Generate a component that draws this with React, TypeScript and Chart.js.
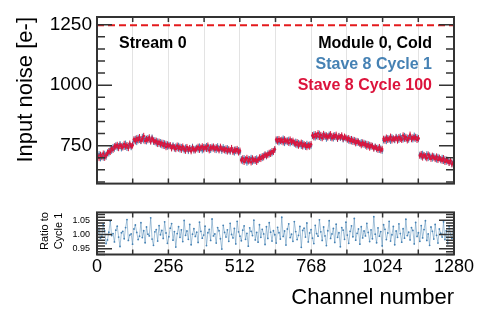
import React, { useEffect, useRef } from "react";
import { Chart, registerables } from "chart.js";

Chart.register(...registerables);

const FONT = "'Liberation Sans', Arial, Helvetica, sans-serif";
const BLUE = "#4682b4";
const RED = "#dc143c";
const FRAME = "#333333";
const GRID = "#e3e3e3";

// ---- data ----
const channelStep = 5; // one plotted point per 5 channels
const cycle1Noise = [
  702, 714, 698, 709, 701, 716, 704,
  722, 718, 735, 729, 744, 738,
  751, 742, 748, 756, 739, 750, 745, 758, 741, 749, 753, 744, 755,
  771, 778, 765, 782, 774, 769, 786, 772, 779, 768, 781, 775, 770, 783, 766,
  772, 760, 767, 758, 764, 752, 761, 749, 757, 746, 753,
  748, 742, 751, 738, 746, 740, 749, 735, 744, 739, 731, 742, 736, 728, 740, 733, 745, 730, 737,
  741, 734, 746, 738, 731, 744, 739, 748, 736, 742, 733, 745, 738, 741, 732, 747, 735, 740, 729, 743,
  736, 728, 739, 731, 725, 737, 730, 722, 734, 727, 731, 724,
  694, 686, 698, 689, 680, 695, 688, 699, 684, 692, 687, 697, 690,
  696, 703, 699, 708, 712, 706, 717, 714, 722, 719, 728, 733,
  770, 776, 764, 772, 767, 779, 761, 771, 765, 774, 760, 768, 763,
  758, 766, 752, 761, 755, 749, 760, 751, 745, 757, 748, 754, 750,
  790, 796, 784, 792, 787, 799, 782, 791, 786, 794, 779, 789, 795, 783, 788, 780, 793, 785, 778, 790, 782, 787, 776, 784, 780,
  779, 771, 776, 768, 774, 765, 770, 762, 767, 758, 764, 756, 761, 750, 757, 748, 753, 745, 749, 740, 746, 736, 741, 733, 738, 729,
  772, 778, 769, 781, 775, 770, 784, 777, 773, 786, 779, 774, 788, 781, 776, 790, 778, 783, 775, 787, 780, 776, 791, 779, 784, 777,
  712, 705, 716, 708, 702, 714, 699, 709, 704, 697, 706, 700, 693, 703, 697, 690, 699, 687, 694, 684, 691, 680, 686, 676, 682,
];
const cycle100Noise = [
  708, 699, 712, 703, 717, 700, 710,
  719, 727, 724, 739, 733, 747,
  746, 753, 740, 751, 747, 743, 757, 746, 752, 740, 758, 748, 751,
  776, 768, 780, 772, 785, 770, 777, 790, 769, 778, 773, 784, 767, 779, 771,
  765, 770, 757, 766, 755, 762, 750, 759, 744, 755, 748,
  752, 739, 747, 743, 736, 750, 738, 745, 733, 746, 737, 729, 744, 734, 739, 727, 741, 735, 731,
  738, 745, 733, 742, 747, 735, 744, 737, 750, 731, 743, 739, 746, 734, 743, 738, 731, 745, 737, 734,
  731, 738, 726, 735, 729, 740, 724, 733, 728, 736, 722, 729,
  689, 697, 683, 693, 699, 685, 694, 681, 697, 688, 694, 683, 692,
  701, 695, 706, 702, 713, 709, 711, 720, 716, 727, 724, 735,
  775, 767, 777, 769, 774, 764, 776, 768, 771, 762, 775, 765, 770,
  762, 755, 764, 750, 758, 762, 747, 756, 752, 744, 753, 746, 756,
  793, 785, 797, 789, 801, 786, 794, 781, 798, 788, 792, 784, 790, 797, 781, 791, 786, 795, 780, 788, 785, 792, 779, 787, 783,
  775, 781, 769, 777, 766, 773, 760, 769, 763, 760, 752, 763, 754, 758, 746, 755, 742, 751, 747, 738, 744, 740, 733, 744, 731, 736,
  778, 771, 783, 774, 779, 787, 772, 780, 776, 783, 771, 785, 778, 774, 792, 779, 786, 772, 781, 795, 777, 784, 780, 786, 774, 781,
  708, 715, 701, 711, 706, 698, 713, 703, 696, 708, 701, 695, 705, 691, 700, 694, 688, 698, 683, 692, 686, 679, 689, 673, 680,
];
const ratioToCycle1 = [
  1.004, 1.021, 0.987, 0.993, 1.036, 1.012, 0.968, 0.981, 1.008, 1.047, 0.996, 1.003, 0.974, 1.015, 1.029, 0.991,
  0.958, 1.006, 1.011, 0.985, 1.024, 1.052, 0.979, 0.998, 1.002, 0.966, 1.019, 1.033, 1.007, 0.982, 0.994, 1.041,
  0.989, 1.013, 0.971, 1.026, 1.001, 0.995, 1.058, 0.984, 0.962, 1.009, 1.017, 0.977, 1.031, 0.999, 1.014, 0.986,
  1.044, 1.005, 0.969, 0.992, 1.022, 1.038, 0.980, 1.010, 0.956, 1.003, 1.027, 0.990, 1.016, 0.975, 1.049, 0.997,
  1.012, 0.983, 1.035, 0.964, 1.001, 1.020, 0.993, 1.008, 0.972, 1.043, 1.011, 0.987, 0.998, 1.029, 0.961, 1.006,
  1.018, 0.979, 1.054, 0.995, 1.002, 0.970, 1.024, 1.013, 0.985, 0.949, 1.032, 1.007, 0.991, 1.016, 0.976, 1.039,
  1.000, 0.988, 1.021, 0.967, 1.046, 1.009, 0.994, 0.978, 1.015, 1.030, 0.983, 1.004, 0.959, 1.023, 1.011, 0.996,
  1.050, 0.981, 1.007, 0.973, 1.034, 0.990, 1.018, 1.002, 0.965, 1.027, 0.986, 1.041, 1.008, 0.977, 1.013, 0.999,
  0.970, 1.025, 1.006, 0.984, 1.060, 0.993, 1.012, 0.963, 1.019, 1.037, 0.989, 1.001, 0.976, 1.045, 1.010, 0.982,
  0.997, 1.028, 0.955, 1.014, 1.022, 0.991, 1.040, 0.974, 1.005, 1.017, 0.987, 0.968, 1.032, 1.003, 0.994, 1.051,
  1.009, 0.979, 1.026, 0.995, 0.961, 1.013, 1.048, 0.986, 1.002, 1.021, 0.972, 1.036, 0.990, 1.006, 0.957, 1.024,
  1.015, 0.983, 1.043, 0.998, 0.969, 1.011, 1.030, 0.992, 1.056, 0.980, 1.004, 1.019, 0.966, 1.027, 0.988, 1.012,
  0.995, 1.039, 1.007, 0.975, 1.016, 0.985, 1.062, 1.001, 0.971, 1.023, 0.994, 1.010, 0.960, 1.034, 1.018, 0.982,
  1.005, 1.046, 0.977, 0.999, 1.028, 0.964, 1.012, 0.990, 1.037, 1.003, 0.973, 1.020, 0.987, 1.053, 0.996, 1.008,
  0.981, 1.024, 1.014, 0.967, 1.042, 0.993, 1.006, 0.976, 1.031, 0.988, 1.017, 1.048, 0.979, 1.002, 0.962, 1.026,
  1.011, 0.984, 1.035, 0.997, 0.970, 1.019, 1.004, 0.991, 1.044, 0.982, 1.013, 0.968, 1.029, 1.000, 0.986, 1.021,
];
const noiseError = 13;
const thresholdNoise = 1248;
const seriesLabels = ["Stave 8 Cycle 1", "Stave 8 Cycle 100"];
const panelLabels = ["Stream 0", "Module 0, Cold"];

const xGridTicks = [0, 128, 256, 384, 512, 640, 768, 896, 1024, 1152, 1280];
const xTickLabels = [0, 256, 512, 768, 1024, 1280];
const noiseMajorTicks = [750, 1000, 1250];
const noiseMinorTicks = [600, 650, 700, 800, 850, 900, 950, 1050, 1100, 1150, 1200];
const ratioMajorTicks = [0.95, 1.0, 1.05];
const ratioMinorTicks = [0.93, 0.94, 0.96, 0.97, 0.98, 0.99, 1.01, 1.02, 1.03, 1.04, 1.06, 1.07];

const channels = cycle1Noise.map((_, i) => i * channelStep + channelStep / 2);

// ---- plugins ----
const errorBarPlugin = {
  id: "errorBars",
  beforeDatasetDraw(chart: any, args: any) {
    const ds = chart.data.datasets[args.index];
    if (!ds.err) return;
    const { ctx, chartArea: a } = chart;
    const y = chart.scales.y;
    ctx.save();
    ctx.beginPath();
    ctx.rect(a.left, a.top, a.right - a.left, a.bottom - a.top);
    ctx.clip();
    ctx.strokeStyle = ds.borderColor;
    ctx.lineWidth = 1;
    ctx.beginPath();
    args.meta.data.forEach((pt: any, i: number) => {
      const v = ds.data[i].y;
      ctx.moveTo(pt.x, y.getPixelForValue(v - ds.err));
      ctx.lineTo(pt.x, y.getPixelForValue(v + ds.err));
    });
    ctx.stroke();
    ctx.restore();
  },
};

const framePlugin = {
  id: "frame",
  afterDatasetsDraw(chart: any, _args: any, opts: any) {
    const { ctx, chartArea: a, scales } = chart;
    ctx.save();
    ctx.strokeStyle = FRAME;
    ctx.lineWidth = 1.5;
    ctx.beginPath();
    const yTick = (v: number, len: number) => {
      const p = scales.y.getPixelForValue(v);
      ctx.moveTo(a.left, p);
      ctx.lineTo(a.left + len, p);
      ctx.moveTo(a.right, p);
      ctx.lineTo(a.right - len, p);
    };
    opts.yMajor.forEach((v: number) => yTick(v, 15));
    opts.yMinor.forEach((v: number) => yTick(v, 8));
    opts.xTicks.forEach((v: number) => {
      const p = scales.x.getPixelForValue(v);
      ctx.moveTo(p, a.top);
      ctx.lineTo(p, a.top + 5);
      ctx.moveTo(p, a.bottom);
      ctx.lineTo(p, a.bottom - 5);
    });
    ctx.stroke();
    ctx.lineWidth = 2;
    ctx.strokeRect(a.left, a.top, a.right - a.left, a.bottom - a.top);
    ctx.restore();
  },
};

const labelsPlugin = {
  id: "panelText",
  afterDraw(chart: any) {
    const { ctx } = chart;
    ctx.save();
    ctx.font = `bold 16px ${FONT}`;
    ctx.textBaseline = "alphabetic";
    ctx.fillStyle = "#000";
    ctx.textAlign = "left";
    ctx.fillText(panelLabels[0], 119, 47.5);
    ctx.textAlign = "right";
    ctx.fillText(panelLabels[1], 432, 47.5);
    ctx.fillStyle = BLUE;
    ctx.fillText(seriesLabels[0], 432, 68.5);
    ctx.fillStyle = RED;
    ctx.fillText(seriesLabels[1], 432, 89.5);
    ctx.restore();
  },
};

const ratioTitlePlugin = {
  id: "ratioTitle",
  afterDraw(chart: any) {
    const { ctx } = chart;
    ctx.save();
    ctx.font = `11px ${FONT}`;
    ctx.fillStyle = "#000";
    ctx.textAlign = "center";
    ctx.textBaseline = "alphabetic";
    ctx.translate(48, 31);
    ctx.rotate(-Math.PI / 2);
    ctx.fillText("Ratio to", 0, 0);
    ctx.fillText("Cycle 1", 0, 13.5);
    ctx.restore();
  },
};

const fixedTicks = (values: number[]) => (axis: any) => {
  axis.ticks = values.map((v) => ({ value: v }));
};

export default function App() {
  const topRef = useRef<HTMLCanvasElement>(null);
  const botRef = useRef<HTMLCanvasElement>(null);

  useEffect(() => {
    const top = new Chart(topRef.current as HTMLCanvasElement, {
      type: "line",
      data: {
        datasets: [
          {
            label: seriesLabels[0],
            data: channels.map((c, i) => ({ x: c, y: cycle1Noise[i] })),
            borderColor: BLUE,
            backgroundColor: BLUE,
            showLine: false,
            pointRadius: 1.3,
            pointBorderWidth: 0,
            order: 2,
            err: noiseError,
          } as any,
          {
            label: seriesLabels[1],
            data: channels.map((c, i) => ({ x: c, y: cycle100Noise[i] })),
            borderColor: RED,
            backgroundColor: RED,
            showLine: false,
            pointRadius: 1.3,
            pointBorderWidth: 0,
            order: 1,
            err: noiseError,
          } as any,
          {
            label: "threshold",
            data: [
              { x: 0, y: thresholdNoise },
              { x: 1280, y: thresholdNoise },
            ],
            borderColor: "#e41a1c",
            borderWidth: 2,
            borderDash: [7, 4],
            pointRadius: 0,
            order: 0,
          },
        ],
      },
      options: {
        animation: false,
        responsive: false,
        maintainAspectRatio: false,
        layout: { padding: { left: 0, right: 39, top: 17, bottom: 6.5 } },
        plugins: {
          legend: { display: false },
          tooltip: { enabled: false },
          frame: { yMajor: noiseMajorTicks, yMinor: noiseMinorTicks, xTicks: xGridTicks },
        } as any,
        scales: {
          x: {
            type: "linear",
            min: 0,
            max: 1280,
            afterBuildTicks: fixedTicks(xGridTicks),
            ticks: { display: false },
            grid: { color: GRID, lineWidth: 1, drawTicks: false },
            border: { display: false },
            afterFit: (s: any) => {
              s.height = 0;
            },
          },
          y: {
            type: "linear",
            min: 593,
            max: 1282,
            afterBuildTicks: fixedTicks(noiseMajorTicks),
            ticks: {
              font: { family: FONT, size: 19 },
              color: "#000",
              padding: 5,
              callback: (v: any) => String(v),
            },
            grid: { display: false, drawTicks: false },
            border: { display: false },
            title: {
              display: true,
              text: "Input noise [e-]",
              align: "end",
              color: "#000",
              font: { family: FONT, size: 22 },
              padding: { top: 13, bottom: 0 },
            },
            afterFit: (s: any) => {
              s.width = 97;
            },
          },
        },
      },
      plugins: [errorBarPlugin, framePlugin, labelsPlugin],
    });

    const bot = new Chart(botRef.current as HTMLCanvasElement, {
      type: "line",
      data: {
        datasets: [
          {
            label: "Ratio to Cycle 1",
            data: channels.map((c, i) => ({ x: c, y: ratioToCycle1[i] })),
            borderColor: "rgba(70,130,180,0.7)",
            backgroundColor: BLUE,
            borderWidth: 0.7,
            pointRadius: 0.9,
            pointBorderWidth: 0,
          },
        ],
      },
      options: {
        animation: false,
        responsive: false,
        maintainAspectRatio: false,
        layout: { padding: { left: 0, right: 39, top: 11.5, bottom: 0 } },
        plugins: {
          legend: { display: false },
          tooltip: { enabled: false },
          frame: { yMajor: ratioMajorTicks, yMinor: ratioMinorTicks, xTicks: xGridTicks },
        } as any,
        scales: {
          x: {
            type: "linear",
            min: 0,
            max: 1280,
            afterBuildTicks: fixedTicks(xGridTicks),
            ticks: {
              autoSkip: false,
              maxRotation: 0,
              minRotation: 0,
              padding: 2,
              color: "#000",
              font: { family: FONT, size: 18 },
              callback: (v: any) => (xTickLabels.includes(Number(v)) ? String(v) : ""),
            },
            grid: { color: GRID, lineWidth: 1, drawTicks: false },
            border: { display: false },
            title: {
              display: true,
              text: "Channel number",
              align: "end",
              color: "#000",
              font: { family: FONT, size: 22 },
              padding: { top: 0, bottom: 18 },
            },
            afterFit: (s: any) => {
              s.height = 74.5;
            },
          },
          y: {
            type: "linear",
            min: 0.93,
            max: 1.077,
            afterBuildTicks: fixedTicks(ratioMajorTicks),
            ticks: {
              font: { family: FONT, size: 9 },
              color: "#000",
              padding: 7,
              callback: (v: any) => Number(v).toFixed(2),
            },
            grid: { display: false, drawTicks: false },
            border: { display: false },
            afterFit: (s: any) => {
              s.width = 97;
            },
          },
        },
      },
      plugins: [framePlugin, ratioTitlePlugin],
    });

    return () => {
      top.destroy();
      bot.destroy();
    };
  }, []);

  return (
    <div style={{ position: "absolute", left: 0, top: 0, width: 493, height: 329, background: "#fff" }}>
      <canvas
        ref={topRef}
        width={493}
        height={200}
        style={{ position: "absolute", left: 0, top: 0, width: 493, height: 200 }}
      />
      <canvas
        ref={botRef}
        width={493}
        height={129}
        style={{ position: "absolute", left: 0, top: 200, width: 493, height: 129 }}
      />
    </div>
  );
}
